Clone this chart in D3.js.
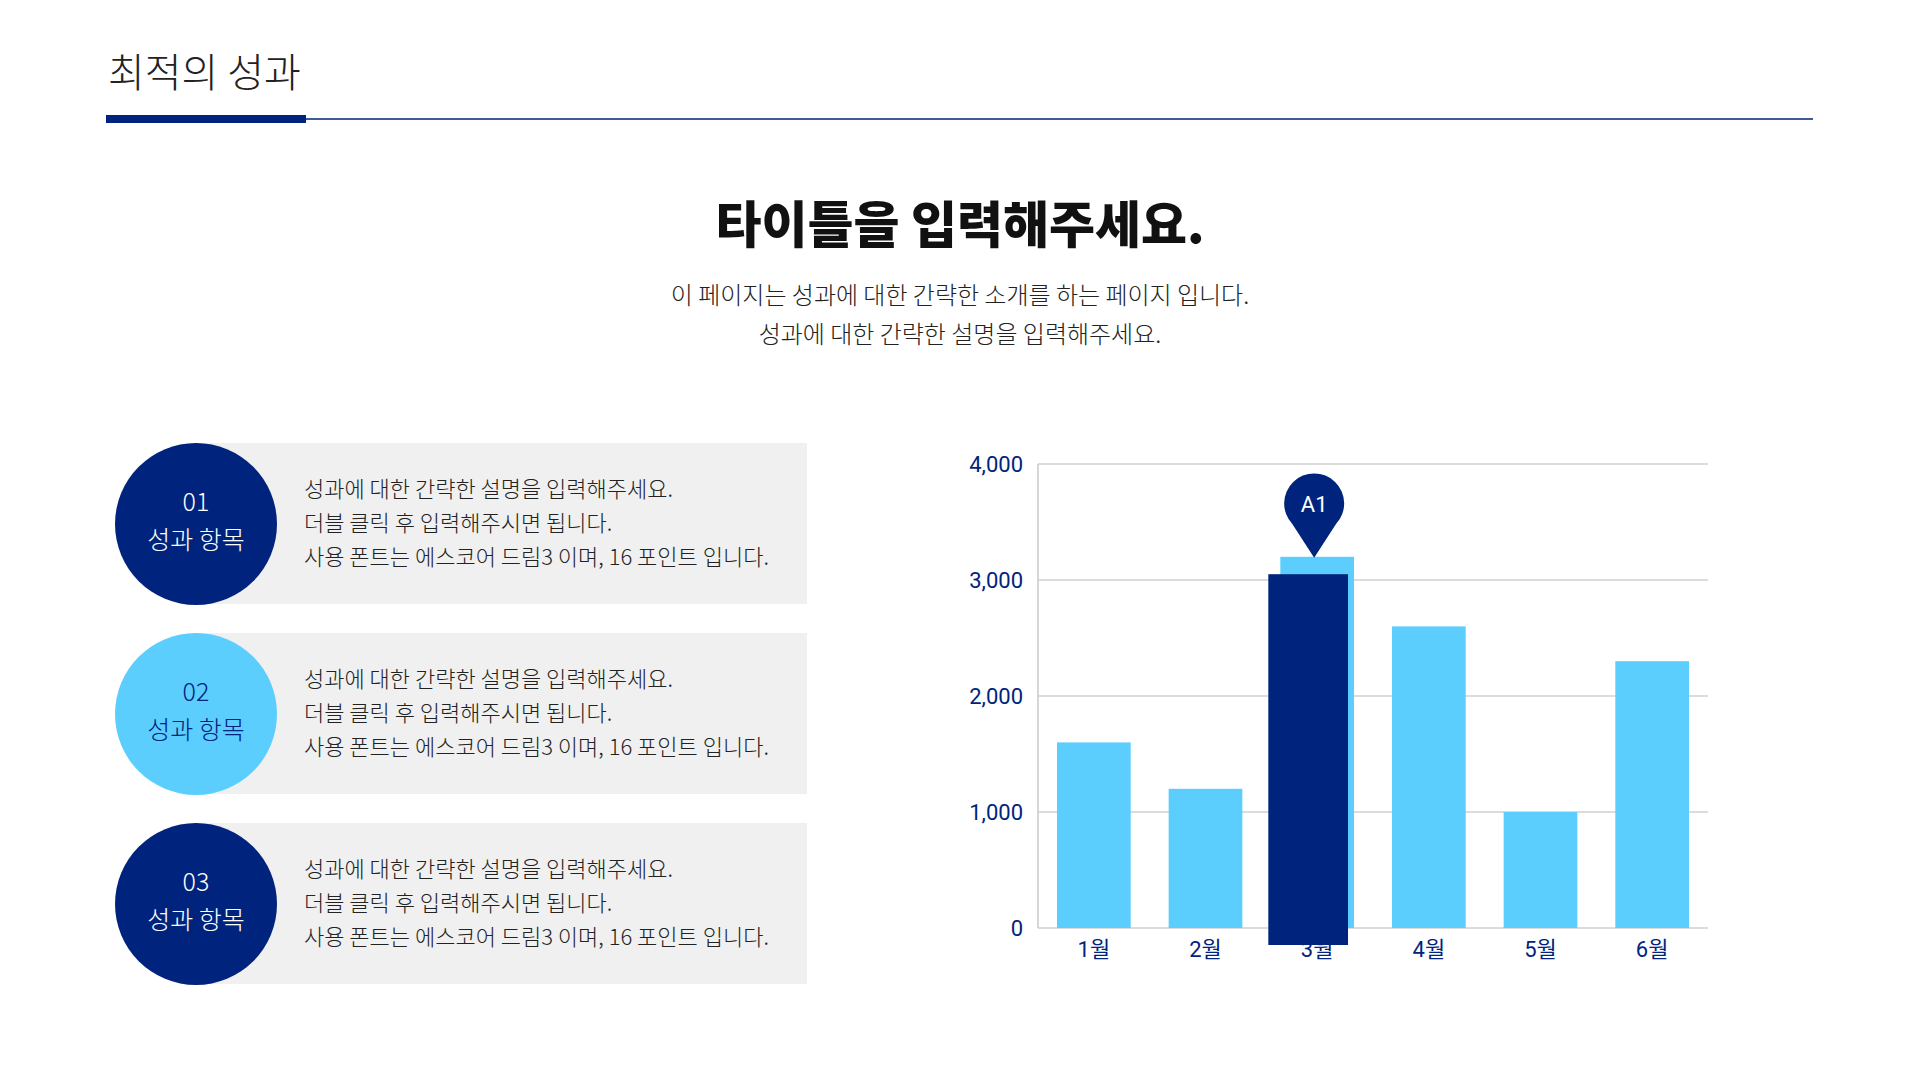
<!DOCTYPE html>
<html><head><meta charset="utf-8">
<script src="https://cdn.jsdelivr.net/npm/d3@7"></script>
<style>body{margin:0;background:#fff;font-family:"Noto Sans CJK KR","Noto Sans",sans-serif}</style>
</head><body><div id="root"></div>
<script>
// data
var months = ["1월", "2월", "3월", "4월", "5월", "6월"];
var values = [1600, 1200, 3200, 2600, 1000, 2300];
var highlightMonth = "3월";
var highlightValue = 3050;
var highlightLabel = "A1";
var yTicks = [0, 1000, 2000, 3000, 4000];
var items = ["01", "02", "03"];
var itemLines = ["성과에 대한 간략한 설명을 입력해주세요.", "더블 클릭 후 입력해주시면 됩니다.", "사용 폰트는 에스코어 드림3 이며, 16 포인트 입니다."];

var navy = "#00247d", sky = "#5bcefd";
var svg = d3.select("#root").append("svg").attr("width", 1920).attr("height", 1080);

// header
svg.append("text").attr("x", 108).attr("y", 87).attr("font-size", 40).attr("fill", "#222")
  .attr("font-weight", 300).text("최적의 성과");
svg.append("line").attr("x1", 106).attr("x2", 1813).attr("y1", 119).attr("y2", 119)
  .attr("stroke", navy).attr("stroke-width", 1.5);
svg.append("rect").attr("x", 106).attr("y", 115).attr("width", 200).attr("height", 8).attr("fill", navy);

svg.append("text").attr("x", 960).attr("y", 243).attr("text-anchor", "middle")
  .attr("font-size", 50).attr("font-weight", 900).attr("fill", "#111").text("타이틀을 입력해주세요.");
svg.append("text").attr("x", 960).attr("y", 304).attr("text-anchor", "middle").attr("font-weight", 300)
  .attr("font-size", 24).attr("fill", "#222").text("이 페이지는 성과에 대한 간략한 소개를 하는 페이지 입니다.");
svg.append("text").attr("x", 960).attr("y", 343).attr("text-anchor", "middle").attr("font-weight", 300)
  .attr("font-size", 24).attr("fill", "#222").text("성과에 대한 간략한 설명을 입력해주세요.");

// left panels
items.forEach(function (num, i) {
  var cy = 524 + i * 190;
  var g = svg.append("g");
  g.append("rect").attr("x", 196).attr("y", cy - 81).attr("width", 611).attr("height", 161).attr("fill", "#f0f0f0");
  g.append("circle").attr("cx", 196).attr("cy", cy).attr("r", 81).attr("fill", i == 1 ? sky : navy);
  var tc = i == 1 ? navy : "#fff";
  g.append("text").attr("x", 196).attr("y", cy - 13).attr("text-anchor", "middle").attr("font-weight", 300)
    .attr("font-size", 25).attr("fill", tc).text(num);
  g.append("text").attr("x", 196).attr("y", cy + 25).attr("text-anchor", "middle").attr("font-weight", 300)
    .attr("font-size", 25).attr("fill", tc).text("성과 항목");
  itemLines.forEach(function (t, j) {
    g.append("text").attr("x", 304).attr("y", cy - 27 + j * 34).attr("font-size", 22).attr("font-weight", 300)
      .attr("fill", "#222").text(t);
  });
});

// chart
var cLeft = 1038, cRight = 1708, cTop = 464, cBottom = 928;
var x = d3.scaleBand().domain(months).range([cLeft, cRight]).paddingInner(0.34).paddingOuter(0.17);
var y = d3.scaleLinear().domain([0, 4000]).range([cBottom, cTop]);

var chart = svg.append("g");
chart.selectAll(".grid").data(yTicks).enter().append("line")
  .attr("x1", cLeft).attr("x2", cRight).attr("y1", d => y(d)).attr("y2", d => y(d))
  .attr("stroke", "#d0d0d0").attr("stroke-width", 1.5);
chart.append("line").attr("x1", cLeft).attr("x2", cLeft).attr("y1", cTop).attr("y2", cBottom)
  .attr("stroke", "#c8c8c8").attr("stroke-width", 1.5);

var yAxis = chart.append("g").attr("transform", `translate(${cLeft - 12},0)`)
  .call(d3.axisLeft(y).tickValues(yTicks).tickSize(0).tickFormat(d3.format(",")));
yAxis.select(".domain").remove();
yAxis.selectAll("text").attr("font-size", 22).attr("fill", navy).attr("font-family", "Roboto, sans-serif");

chart.selectAll(".bar").data(values).enter().append("rect")
  .attr("x", (d, i) => x(months[i])).attr("width", x.bandwidth())
  .attr("y", d => y(d)).attr("height", d => cBottom - y(d)).attr("fill", sky);

var xAxis = chart.append("g").attr("transform", `translate(0,${cBottom + 6})`)
  .call(d3.axisBottom(x).tickSize(0));
xAxis.select(".domain").remove();
xAxis.selectAll("text").attr("font-size", 22).attr("fill", navy).attr("dy", "0.9em")
  .attr("font-family", "Roboto, 'Noto Sans CJK KR', sans-serif");

// highlighted bar
var hx = x(highlightMonth) - 12, hw = x.bandwidth() + 6;
chart.append("rect").attr("x", hx).attr("width", hw).attr("y", y(highlightValue))
  .attr("height", cBottom - y(highlightValue) + 17).attr("fill", navy);

// pin
var lightTop = y(values[months.indexOf(highlightMonth)]);
var px = x(highlightMonth) + x.bandwidth() / 2 - 3, tip = lightTop + 1, r = 30, pcy = tip - 54;
chart.append("path").attr("fill", navy)
  .attr("d", `M${px},${tip} L${px - 22},${pcy + 20} A${r},${r} 0 1 1 ${px + 22},${pcy + 20} Z`);
chart.append("text").attr("x", px).attr("y", pcy + 8).attr("text-anchor", "middle")
  .attr("font-size", 22).attr("fill", "#fff").attr("font-family", "Roboto, sans-serif").text(highlightLabel);
</script></body></html>
